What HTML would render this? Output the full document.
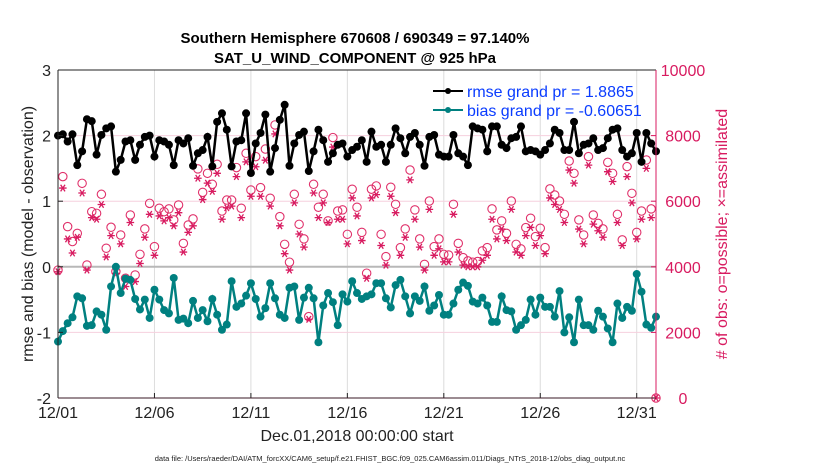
<!DOCTYPE html>
<html><head><meta charset="utf-8"><style>
html,body{margin:0;padding:0;background:#fff;}
svg{display:block;font-family:"Liberation Sans",Arial,sans-serif;}
</style></head><body>
<svg id="chart" width="830" height="470" viewBox="0 0 830 470">
<text x="355" y="43" text-anchor="middle" font-size="15" font-weight="bold">Southern Hemisphere 670608 / 690349 = 97.140%</text>
<text x="355" y="63" text-anchor="middle" font-size="15" font-weight="bold">SAT_U_WIND_COMPONENT @ 925 hPa</text>
<g id="grid"></g>
<g id="obs"></g>
<g id="lines"></g>
<g id="axes"></g>
<text transform="translate(33,234) rotate(-90)" text-anchor="middle" font-size="16" fill="#222">rmse and bias (model - observation)</text>
<text transform="translate(727,234) rotate(-90)" text-anchor="middle" font-size="16" fill="#d81b60"># of obs: o=possible; ×=assimilated</text>
<text x="357" y="441" text-anchor="middle" font-size="16" fill="#222">Dec.01,2018 00:00:00 start</text>
<text x="390" y="461" text-anchor="middle" font-size="7.5" fill="#222">data file: /Users/raeder/DAI/ATM_forcXX/CAM6_setup/f.e21.FHIST_BGC.f09_025.CAM6assim.011/Diags_NTrS_2018-12/obs_diag_output.nc</text>
<g>
<line x1="433" y1="91" x2="463" y2="91" stroke="#000" stroke-width="2"/><circle cx="448" cy="91" r="3" fill="#000"/>
<text x="467" y="97" font-size="16" fill="#0a3cff">rmse grand pr = 1.8865</text>
<line x1="433" y1="110" x2="463" y2="110" stroke="#008080" stroke-width="2"/><circle cx="448" cy="110" r="3" fill="#008080"/>
<text x="467" y="116" font-size="16" fill="#0a3cff">bias grand pr = -0.60651</text>
</g>
</svg>
<script>
const xTickLabels=["12/01","12/06","12/11","12/16","12/21","12/26","12/31"];
const xTickDays=[0,5,10,15,20,25,30];
const yTicksLeft=[3,2,1,0,-1,-2];
const yTicksRight=[0,2000,4000,6000,8000,10000];
const rmse=[2.0,2.02,1.91,2.02,1.55,1.76,2.25,2.22,1.71,2.01,2.11,2.14,1.45,1.63,1.91,1.93,1.63,1.86,1.98,2.0,1.68,1.93,1.91,1.86,1.55,1.93,1.88,1.96,1.54,1.73,1.78,1.98,1.53,2.21,2.34,2.09,1.53,1.91,1.93,2.34,1.43,1.88,
2.04,2.32,1.45,1.81,2.24,2.47,1.54,1.88,2.01,2.06,1.46,1.76,2.09,1.93,1.6,1.73,1.86,1.88,1.68,1.78,1.83,1.93,1.6,2.06,1.83,1.86,1.6,1.86,2.11,1.96,1.73,1.98,2.04,1.86,1.54,1.98,2.01,1.71,1.68,
1.68,2.01,1.73,1.68,1.55,2.14,2.11,2.09,1.76,2.14,2.14,1.86,1.81,1.96,1.98,2.14,1.76,1.78,1.76,1.71,1.78,1.88,2.09,2.04,1.78,1.78,2.21,1.73,1.86,1.88,1.96,1.78,1.81,1.96,2.09,2.11,1.78,1.68,1.73,2.04,1.6,2.04,1.88,1.76];
const bias=[-1.14,-0.98,-0.86,-0.77,-0.45,-0.48,-0.9,-0.89,-0.68,-0.73,-0.96,-0.3,0.0,-0.4,-0.18,-0.2,-0.49,-0.65,-0.5,-0.78,-0.35,-0.5,-0.66,-0.71,-0.17,-0.81,-0.79,-0.86,-0.52,-0.78,-0.66,-0.83,-0.49,-0.73,-0.96,-0.88,-0.22,-0.61,-0.56,-0.44,-0.25,-0.49,
-0.76,-0.63,-0.25,-0.48,-0.73,-0.78,-0.32,-0.3,-0.81,-0.47,-0.32,-0.48,-1.15,-0.59,-0.4,-0.54,-0.89,-0.42,-0.53,-0.22,-0.4,-0.49,-0.45,-0.42,-0.25,-0.25,-0.48,-0.62,-0.28,-0.2,-0.45,-0.71,-0.45,-0.52,-0.3,-0.67,-0.59,-0.43,-0.73,
-0.73,-0.56,-0.35,-0.24,-0.29,-0.53,-0.56,-0.47,-0.59,-0.84,-0.84,-0.45,-0.66,-0.68,-0.96,-0.89,-0.81,-0.5,-0.73,-0.47,-0.61,-0.61,-0.76,-0.37,-1.0,-0.77,-1.15,-0.5,-0.89,-0.89,-0.96,-0.67,-0.76,-0.94,-1.15,-0.56,-0.78,-0.61,-0.67,-0.11,-0.38,-0.88,-0.93,-0.76];
const possible=[3900,6750,5225,4770,5020,6545,4055,5680,5630,6210,4565,5205,3855,4970,3650,5580,3750,4380,5155,5935,4615,5785,5680,5765,5430,5885,4715,5275,5460,6985,6270,6850,6515,7125,5700,6035,6035,7025,5785,7460,6340,7360,
6415,7590,6090,8325,5530,4685,4140,6210,5295,4850,2480,6515,5815,6210,5400,7940,5700,5735,4990,6365,5815,5050,3805,6365,6465,4990,4310,6425,5905,4585,5155,6950,5735,4850,4075,6005,4615,4850,4380,
4360,5905,4715,4280,4180,4140,4160,4485,4585,5765,5125,5400,5020,6005,4685,4545,5195,5480,4920,5175,4585,6375,6190,6005,5600,7225,6850,5430,4970,7360,5580,5325,5155,7185,6850,5600,4820,7055,6240,5050,5700,7255,5765,0];
const assimilated=[3850,6400,4850,4420,4900,6250,3900,5500,5450,5900,4300,4950,3800,4700,3400,5350,3550,4100,4900,5600,4350,5550,5400,5500,5250,5650,4450,5050,5250,6700,6050,6550,6300,6850,5450,5800,5850,6750,5500,7200,6150,7050,
6150,7250,5850,8050,5250,4400,3900,5950,5000,4600,2400,6250,5500,5950,5350,7650,5450,5450,4700,6100,5550,4800,3650,6100,6200,4650,4050,6150,5650,4350,4900,6650,5450,4600,3900,5750,4350,4550,4150,
4150,5600,4450,4050,4000,4000,4000,4200,4350,5450,4850,5150,4800,5750,4450,4350,4950,5200,4650,4950,4400,6100,5900,5750,5350,6950,6550,5150,4700,7100,5300,5100,4900,6900,6600,5350,4650,6750,5950,4850,5450,7000,5500,0];

const NS="http://www.w3.org/2000/svg";
const L=58,R=656,T=70,B=398;
const xDay=d=>L+(d/31)*(R-L);
const yL=v=>B-(v+2)/5*(B-T);
const yR=c=>B-c/10000*(B-T);
function mk(tag,attrs,parent){const e=document.createElementNS(NS,tag);for(const k in attrs)e.setAttribute(k,attrs[k]);parent.appendChild(e);return e;}
const grid=document.getElementById('grid'),axes=document.getElementById('axes'),obs=document.getElementById('obs'),lines=document.getElementById('lines');

xTickDays.forEach((d,i)=>{
 const g=mk('line',{x1:xDay(d),x2:xDay(d),y1:T,y2:B,stroke:'#dcdcdc','stroke-width':1},grid);
 
 
 const t=mk('line',{x1:xDay(d),x2:xDay(d),y1:B,y2:B-5,stroke:'#222'},axes);
 
 
 const tx=mk('text',{x:xDay(d),y:B+20,'text-anchor':'middle','font-size':16,fill:'#222'},axes);
 tx.textContent=xTickLabels[i];
 
 
});
yTicksRight.forEach(c=>{
 if(c>0&&c<10000){const g=mk('line',{x1:L,x2:R,y1:yR(c),y2:yR(c),stroke:'#f6d0de','stroke-width':1},grid);
 
 }
 const t=mk('line',{x1:R,x2:R-5,y1:yR(c),y2:yR(c),stroke:'#d81b60'},axes);
 
 
 const tx=mk('text',{x:683,y:yR(c)+6,'text-anchor':'middle','font-size':16,fill:'#d81b60'},axes);
 tx.textContent=String(c);
 
 
});
const zl=mk('line',{x1:L,x2:R,y1:yL(0),y2:yL(0),stroke:'#b8b8b8','stroke-width':2},grid);


yTicksLeft.forEach(v=>{
 const t=mk('line',{x1:L,x2:L+5,y1:yL(v),y2:yL(v),stroke:'#222'},axes);
 
 
 const tx=mk('text',{x:L-7,y:yL(v)+6,'text-anchor':'end','font-size':16,fill:'#222'},axes);
 tx.textContent=String(v);
 
 
});
const la=mk('line',{x1:L,x2:L,y1:T,y2:B,stroke:'#222'},axes);


const ta=mk('line',{x1:L,x2:R,y1:T,y2:T,stroke:'#222'},axes);


const ba=mk('line',{x1:L,x2:R,y1:B,y2:B,stroke:'#3a1a24'},axes);


const ra=mk('line',{x1:R,x2:R,y1:T,y2:B,stroke:'#d81b60'},axes);



const tOf=i=>i*0.25;
possible.forEach((c,i)=>{
 const e=mk('circle',{cx:xDay(tOf(i)),cy:yR(c),r:4.2,fill:'none',stroke:'#e0306a','stroke-width':1.1},obs);
 
 
});
assimilated.forEach((c,i)=>{
 const x=xDay(tOf(i)),y=yR(c);
 const p=mk('path',{d:`M${x-3.8} ${y}H${x+3.8}M${x-2.2} ${y-3.3}L${x+2.2} ${y+3.3}M${x-2.2} ${y+3.3}L${x+2.2} ${y-3.3}`,stroke:'#d81b60','stroke-width':1.3},obs);
 
 
});
function series(vals,color,name){
 const pts=vals.map((v,i)=>xDay(tOf(i))+','+yL(v)).join(' ');
 const pl=mk('polyline',{points:pts,fill:'none',stroke:color,'stroke-width':2.5},lines);
 
 
 vals.forEach((v,i)=>{
  const c=mk('circle',{cx:xDay(tOf(i)),cy:yL(v),r:4,fill:color},lines);
  
  
 });
}
series(rmse,'#000','rmse');
series(bias,'#008080','bias');
</script>
</body></html>
